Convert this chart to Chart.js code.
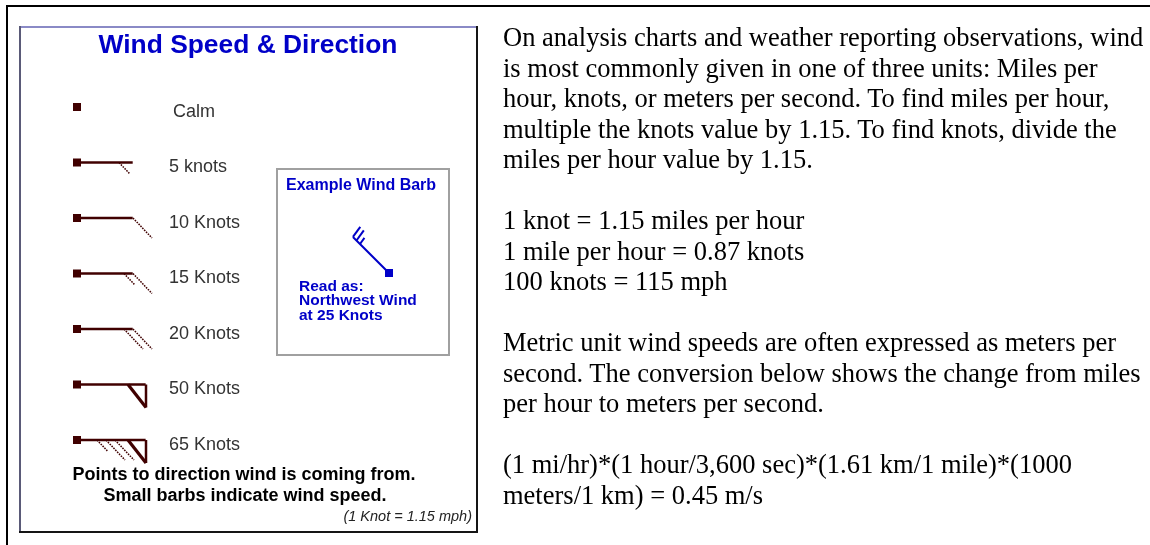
<!DOCTYPE html>
<html>
<head>
<meta charset="utf-8">
<script src="https://cdn.jsdelivr.net/npm/chart.js@4.4.1/dist/chart.umd.min.js"></script>
<style>
  html, body { margin: 0; padding: 0; background: #fff; }
  body { width: 1150px; height: 545px; position: relative; overflow: hidden; }
  #barbs { position: absolute; left: 0; top: 0; }
  #notes {
    position: absolute; left: 503px; top: 22px;
    font-family: "Liberation Serif", "Times New Roman", serif;
    font-size: 26.5px; line-height: 30.5px; color: #000; white-space: nowrap;
  }
  #notes p { margin: 0 0 30.5px 0; }
</style>
</head>
<body>
<canvas id="barbs" width="1150" height="545"></canvas>
<div id="notes">
  <p>On analysis charts and weather reporting observations, wind<br>is most commonly given in one of three units: Miles per<br>hour, knots, or meters per second. To find miles per hour,<br>multiple the knots value by 1.15. To find knots, divide the<br>miles per hour value by 1.15.</p>
  <p>1 knot = 1.15 miles per hour<br>1 mile per hour = 0.87 knots<br>100 knots = 115 mph</p>
  <p>Metric unit wind speeds are often expressed as meters per<br>second. The conversion below shows the change from miles<br>per hour to meters per second.</p>
  <p>(1 mi/hr)*(1 hour/3,600 sec)*(1.61 km/1 mile)*(1000<br>meters/1 km) = 0.45 m/s</p>
</div>
<script>
// legend rows, top to bottom
const rowLabels = ['Calm', '5 knots', '10 Knots', '15 Knots', '20 Knots', '50 Knots', '65 Knots'];
const knots     = [0, 5, 10, 15, 20, 50, 65];
const pennants  = [0, 0, 0, 0, 0, 1, 1];
const fullBarbs = [0, 0, 1, 1, 2, 0, 2];
const halfBarbs = [0, 1, 0, 1, 0, 0, 1];
const rowDirection = 90; // all legend barbs point east

// the example barb in the inset
const exampleKnots = 25;
const exampleDirection = 315; // NW
const exampleFull = 2;
const exampleHalf = 1;

const MAROON = '#400000';
const BLUE = '#0000c8';
const SANS = '"Liberation Sans", Arial, sans-serif';

const shaftLen = i => pennants[i] ? 69 : 56;

// ---- barb geometry helpers ----
function unit(dir) {
  const a = dir * Math.PI / 180;
  return { x: Math.sin(a), y: -Math.cos(a) };
}

function drawBarbs(ctx, sx, sy, dir, len, nFlag, nFull, nHalf, o) {
  const d = unit(dir);
  const p = { x: -d.y, y: d.x };
  const tip = { x: sx + d.x * len, y: sy + d.y * len };
  const lean = o.lean * Math.PI / 180;
  const bv = L => ({ x: (p.x * Math.cos(lean) + d.x * Math.sin(lean)) * L, y: (p.y * Math.cos(lean) + d.y * Math.sin(lean)) * L });
  const at = s => ({ x: tip.x - d.x * s, y: tip.y - d.y * s });
  const line = (a, b, w, dash) => {
    ctx.save();
    ctx.lineWidth = w;
    ctx.setLineDash(dash || []);
    ctx.beginPath(); ctx.moveTo(a.x, a.y); ctx.lineTo(b.x, b.y); ctx.stroke();
    ctx.restore();
  };
  ctx.strokeStyle = o.color;
  let s = 0;
  for (let k = 0; k < nFlag; k++) {
    const base = at(s + o.flagW);
    const corner = { x: tip.x - d.x * s + p.x * o.flagH, y: tip.y - d.y * s + p.y * o.flagH };
    line(at(s), corner, 2.5);
    line(base, corner, 3.2);
    s += o.flagW + o.flagGap;
  }
  for (let k = 0; k < nFull; k++) {
    const a = at(s), v = bv(o.full);
    line(a, { x: a.x + v.x, y: a.y + v.y }, o.barbW, o.dash);
    s += o.step;
  }
  for (let k = 0; k < nHalf; k++) {
    if (nFull === 0 && nFlag === 0) s = o.loneHalf;
    const a = at(s), v = bv(o.half);
    line(a, { x: a.x + v.x, y: a.y + v.y }, o.barbW, o.dash);
    s += o.step;
  }
}

const panelPlugin = {
  id: 'panel',
  beforeDraw(chart) {
    const ctx = chart.ctx;
    ctx.save();
    ctx.fillStyle = '#fff';
    ctx.fillRect(0, 0, chart.width, chart.height);
    // outer page frame
    ctx.fillStyle = '#000';
    ctx.fillRect(6, 5, 1144, 2);
    ctx.fillRect(6, 5, 2, 540);
    // panel frame
    ctx.fillStyle = '#8a8ac6';
    ctx.fillRect(19, 26, 459, 2);
    ctx.fillStyle = '#5a5a78';
    ctx.fillRect(19, 26, 2, 507);
    ctx.fillStyle = '#151515';
    ctx.fillRect(19, 531, 459, 2);
    ctx.fillRect(476, 26, 2, 507);
    // example inset
    ctx.strokeStyle = '#a0a0a0';
    ctx.lineWidth = 2;
    ctx.strokeRect(277, 169, 172, 186);
    // title
    ctx.fillStyle = BLUE;
    ctx.font = 'bold 26.4px ' + SANS;
    ctx.textAlign = 'center';
    ctx.textBaseline = 'alphabetic';
    ctx.fillText('Wind Speed & Direction', 248, 53);
    ctx.restore();
  },
  afterDatasetsDraw(chart) {
    const ctx = chart.ctx;
    const xs = chart.scales.x, ys = chart.scales.y;
    ctx.save();
    ctx.lineCap = 'butt';
    knots.forEach((kt, i) => {
      const sx = xs.getPixelForValue(0), sy = ys.getPixelForValue(i);
      if (kt > 0) {
        drawBarbs(ctx, sx, sy, rowDirection, shaftLen(i), pennants[i], fullBarbs[i], halfBarbs[i], {
          color: MAROON, lean: 43.5, full: 27.6, half: 15, step: 9, loneHalf: 14,
          flagW: 18, flagH: 23, flagGap: 13, barbW: 1.5, dash: [1.6, 1.1]
        });
      }
      ctx.fillStyle = '#333';
      ctx.font = '18px ' + SANS;
      ctx.textAlign = 'left';
      ctx.textBaseline = 'alphabetic';
      ctx.fillText(rowLabels[i], i === 0 ? 173 : 169, sy + 9.5);
    });

    // example wind barb
    const ex = { x: 389, y: 273 };
    ctx.strokeStyle = BLUE;
    ctx.lineWidth = 2;
    const d = unit(exampleDirection);
    ctx.beginPath();
    ctx.moveTo(ex.x, ex.y);
    ctx.lineTo(ex.x + d.x * 51, ex.y + d.y * 51);
    ctx.stroke();
    drawBarbs(ctx, ex.x, ex.y, exampleDirection, 51, 0, exampleFull, exampleHalf, {
      color: BLUE, lean: 9, full: 12.5, half: 7.5, step: 5, loneHalf: 8,
      flagW: 0, flagH: 0, flagGap: 0, barbW: 2
    });
    ctx.fillStyle = BLUE;
    ctx.fillRect(ex.x - 4, ex.y - 4, 8, 8);

    ctx.font = 'bold 16px ' + SANS;
    ctx.textAlign = 'left';
    ctx.fillText('Example Wind Barb', 286, 190);
    ctx.font = 'bold 15.5px ' + SANS;
    ctx.fillText('Read as:', 299, 290.5);
    ctx.fillText('Northwest Wind', 299, 305);
    ctx.fillText('at ' + exampleKnots + ' Knots', 299, 319.5);

    // footnotes
    ctx.fillStyle = '#000';
    ctx.font = 'bold 18px ' + SANS;
    ctx.textAlign = 'center';
    ctx.fillText('Points to direction wind is coming from.', 244, 479.5);
    ctx.fillText('Small barbs indicate wind speed.', 245, 501);
    ctx.fillStyle = '#222';
    ctx.font = 'italic 14.5px ' + SANS;
    ctx.textAlign = 'right';
    ctx.fillText('(1 Knot = 1.15 mph)', 472, 521);
    ctx.restore();
  }
};

const shaftSets = knots.map((kt, i) => kt > 0 ? {
  type: 'line',
  data: [{ x: 0, y: i }, { x: shaftLen(i), y: i }],
  borderColor: MAROON,
  borderWidth: 2.6,
  pointRadius: 0,
  clip: false,
  order: 1
} : null).filter(Boolean);

new Chart(document.getElementById('barbs'), {
  type: 'scatter',
  data: {
    datasets: [{
      label: 'station',
      data: rowLabels.map((_, i) => ({ x: 0, y: i })),
      pointStyle: 'rect',
      pointRadius: 5.66,
      pointHoverRadius: 5.66,
      backgroundColor: MAROON,
      borderWidth: 0,
      clip: false,
      order: 0
    }, ...shaftSets]
  },
  options: {
    responsive: false,
    devicePixelRatio: 1,
    animation: false,
    events: [],
    layout: { padding: { left: 77, right: 0, top: 107, bottom: 105 } },
    scales: {
      x: { type: 'linear', display: false, min: 0, max: 1073 },
      y: { type: 'linear', display: false, min: 0, max: 6, reverse: true }
    },
    plugins: { legend: { display: false }, tooltip: { enabled: false } }
  },
  plugins: [panelPlugin]
});
</script>
</body>
</html>
